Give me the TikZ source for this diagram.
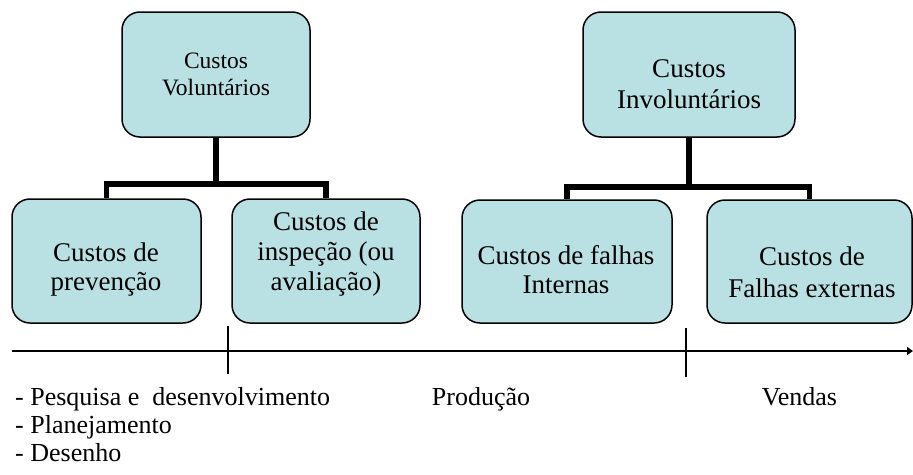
\documentclass[tikz,border=0pt]{standalone}
\usepackage{fontspec}
\setmainfont{Liberation Serif}
\usetikzlibrary{arrows.meta}
\definecolor{boxfill}{RGB}{185,224,227}
\tikzset{
  costbox/.style={draw=black, line width=1.5pt, fill=boxfill, rounded corners=18pt, inner sep=0pt},
  conn/.style={line width=5.5pt, line join=miter},
  axis/.style={line width=1.6pt},
  tick/.style={line width=1.2pt},
  bigtxt/.style={align=center, anchor=base, inner sep=0pt, font=\fontsize{27}{29}\selectfont},
  smalltxt/.style={align=center, anchor=base, inner sep=0pt, font=\fontsize{23.5}{27}\selectfont},
  phasetxt/.style={inner sep=0pt, font=\fontsize{26}{28}\selectfont}
}
\begin{document}
\begin{tikzpicture}[x=1pt,y=-1pt]
\useasboundingbox (0,0) rectangle (913,474);
% boxes
\node[costbox, minimum width=188pt, minimum height=125pt] (cv) at (216,74.5) {};
\node[costbox, minimum width=212pt, minimum height=125pt] (cinv) at (689,74.5) {};
\node[costbox, minimum width=189pt, minimum height=124pt] (cp) at (106.5,261) {};
\node[costbox, minimum width=188pt, minimum height=124pt] (ci) at (326,261) {};
\node[costbox, minimum width=210pt, minimum height=123pt] (cfi) at (567,261.5) {};
\node[costbox, minimum width=205pt, minimum height=123pt] (cfe) at (809.5,261.5) {};
% texts (anchor base = baseline of the last line)
\node[smalltxt] (tcv) at (216,95) {Custos\\Voluntários};
\node[bigtxt, font=\fontsize{27}{31}\selectfont] (tcinv) at (689,108) {Custos\\Involuntários};
\node[bigtxt] (tcp) at (106,290) {Custos de\\prevenção};
\node[bigtxt, font=\fontsize{27}{30}\selectfont] (tci) at (326,290) {Custos de\\inspeção (ou\\avaliação)};
\node[bigtxt] (tcfi) at (566,293) {Custos de falhas\\Internas};
\node[bigtxt, font=\fontsize{27}{32}\selectfont] (tcfe) at (812,297) {Custos de\\Falhas externas};
% connectors
\draw[conn] (cv.south) -- (cv.south |- 0,184) -| (cp.north);
\draw[conn] (cv.south |- 0,184) -| (ci.north);
\draw[conn] (cinv.south) -- (cinv.south |- 0,187) -| (cfi.north);
\draw[conn] (cinv.south |- 0,187) -| (cfe.north);
% timeline
\coordinate (t0) at (12,351);
\coordinate (t1) at (913,351);
\coordinate (k1a) at (228,326);
\coordinate (k1b) at (228,374);
\coordinate (k2a) at (686,328);
\coordinate (k2b) at (686,377);
\draw[axis, -{Triangle[length=6pt,width=8pt]}] (t0) -- (t1);
\draw[tick] (k1a) -- (k1b);
\draw[tick] (k2a) -- (k2b);
% phase texts
\node[phasetxt, anchor=base west] (pd1) at (15,405) {- Pesquisa e\ \ desenvolvimento};
\node[phasetxt, anchor=base west] (pd2) at (15,433) {- Planejamento};
\node[phasetxt, anchor=base west] (pd3) at (15,461) {- Desenho};
\node[phasetxt, anchor=base] (prod) at (481,405) {Produção};
\node[phasetxt, anchor=base] (vend) at (799.5,405) {Vendas};
\end{tikzpicture}
\end{document}
